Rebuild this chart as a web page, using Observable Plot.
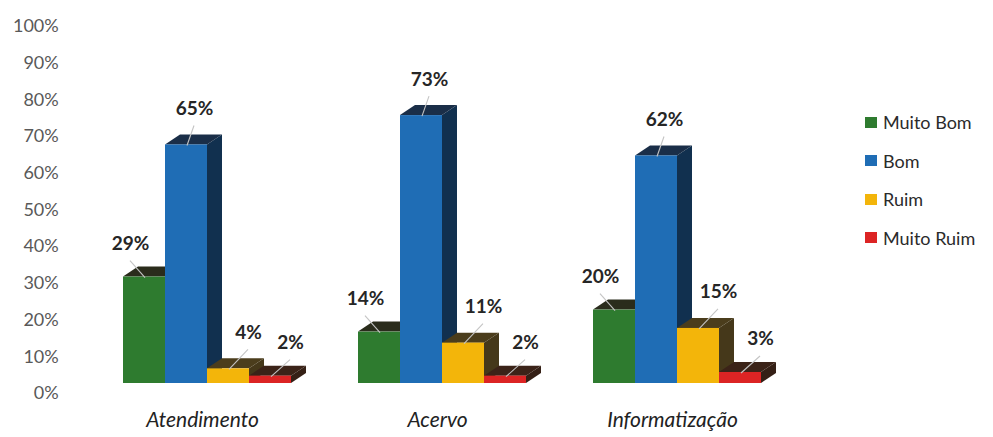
<!DOCTYPE html>
<html>
<head>
<meta charset="utf-8">
<script src="https://cdn.jsdelivr.net/npm/d3@7"></script>
<script src="https://cdn.jsdelivr.net/npm/@observablehq/plot@0.6"></script>
<style>
  html, body { margin: 0; padding: 0; background: #ffffff; }
  #wrap { position: relative; width: 993px; height: 437px; overflow: hidden; }
  #legend { position: absolute; left: 865px; top: 103px; font-family: Lato, "Open Sans", sans-serif; font-size: 18px; color: #2b2b2b; }
  #legend .row { height: 38.5px; display: flex; align-items: center; }
  #legend .sw { width: 12px; height: 11px; margin-right: 6px; }
</style>
</head>
<body>
<div id="wrap"><div id="legend"></div></div>
<script>
// ---- data ----
const categories = ["Atendimento", "Acervo", "Informatização"];
const series = ["Muito Bom", "Bom", "Ruim", "Muito Ruim"];
const muitoBom = [29, 14, 20];
const bom = [65, 73, 62];
const ruim = [4, 11, 15];
const muitoRuim = [2, 2, 3];
const yTicks = [0, 10, 20, 30, 40, 50, 60, 70, 80, 90, 100];

// ---- styles ----
const frontColor = {"Muito Bom": "#2e7b2f", "Bom": "#1f6db5", "Ruim": "#f3b50a", "Muito Ruim": "#dc2424"};
const topColor   = {"Muito Bom": "#2a2c1c", "Bom": "#1a2e48", "Ruim": "#4b3d1c", "Muito Ruim": "#3b2318"};
const sideColor  = {"Muito Bom": "#232f1a", "Bom": "#11304f", "Ruim": "#45381a", "Muito Ruim": "#352016"};
const labelStyle = {"Muito Bom": {dx: -14, up: 27}, "Bom": {dx: 8, up: 30}, "Ruim": {dx: 20, up: 30}, "Muito Ruim": {dx: 20, up: 27}};
const LIFT = 10, DEPTH_X = 15, DEPTH_Y = 10;

const W = 993, H = 437;
const M = {top: 26, right: 179, bottom: 44, left: 70};
const fxPad = {inner: 0.278, outer: 0.22};

const seriesValues = [muitoBom, bom, ruim, muitoRuim];
const data = categories.flatMap((c, i) => series.map((s, j) => ({category: c, series: s, value: seriesValues[j][i]})));

// left edge of first facet (for placing y axis labels at the left margin)
const fxStart = d3.scaleBand().domain(categories).range([M.left, W - M.right])
  .paddingInner(fxPad.inner).paddingOuter(fxPad.outer)(categories[0]);

function bars3d(index, scales, values) {
  const g = d3.create("svg:g");
  const bw = typeof scales.x.bandwidth === "function" ? scales.x.bandwidth() : scales.x.bandwidth;
  for (const i of index) {
    const s = data[i].series;
    const x1 = values.x[i], x2 = x1 + bw;
    const yt = Math.min(values.y1[i], values.y2[i]) - LIFT;
    const yb = Math.max(values.y1[i], values.y2[i]) - LIFT;
    g.append("polygon")
      .attr("points", `${x2},${yt} ${x2 + DEPTH_X},${yt - DEPTH_Y} ${x2 + DEPTH_X},${yb - DEPTH_Y} ${x2},${yb}`)
      .attr("fill", sideColor[s]);
    g.append("polygon")
      .attr("points", `${x1},${yt} ${x1 + DEPTH_X},${yt - DEPTH_Y} ${x2 + DEPTH_X},${yt - DEPTH_Y} ${x2},${yt}`)
      .attr("fill", topColor[s]);
    g.append("rect")
      .attr("x", x1).attr("y", yt).attr("width", bw).attr("height", yb - yt)
      .attr("fill", frontColor[s]);
  }
  for (const i of index) {
    const s = data[i].series, st = labelStyle[s];
    const x1 = values.x[i], cx = x1 + bw / 2;
    const yt = Math.min(values.y1[i], values.y2[i]) - LIFT;
    g.append("line")
      .attr("x1", cx + st.dx).attr("y1", yt - st.up + 11)
      .attr("x2", cx + 1).attr("y2", yt + 1)
      .attr("stroke", "#c4c4c4").attr("stroke-width", 1.1);
  }
  return g.node();
}

const chart = Plot.plot({
  width: W, height: H,
  marginTop: M.top, marginRight: M.right, marginBottom: M.bottom, marginLeft: M.left,
  style: {fontFamily: "Lato, 'Open Sans', sans-serif", background: "#ffffff"},
  fx: {domain: categories, paddingInner: fxPad.inner, paddingOuter: fxPad.outer},
  x: {domain: series, padding: 0, axis: null},
  y: {domain: [0, 100]},
  marks: [
    Plot.axisY({ticks: yTicks, tickSize: 0, tickPadding: 0, dx: (M.left - 12) - fxStart,
      tickFormat: d => d + "%", fontSize: 18, fill: "#595959", label: null}),
    Plot.axisFx({anchor: "bottom", tickSize: 0, tickPadding: 19, fontSize: 21, dx: -5,
      fontStyle: "italic", fill: "#222", label: null}),
    Plot.barY(data, {fx: "category", x: "series", y: "value", render: bars3d}),
    ...series.map(s => Plot.text(data.filter(d => d.series === s), {
      fx: "category", x: "series", y: "value",
      text: d => d.value + "%",
      dx: labelStyle[s].dx, dy: -LIFT - labelStyle[s].up,
      lineAnchor: "bottom", fontWeight: "bold", fontSize: 19, fill: "#262626"
    }))
  ]
});
document.getElementById("wrap").prepend(chart);

const legend = d3.select("#legend");
for (const s of series) {
  const row = legend.append("div").attr("class", "row");
  row.append("div").attr("class", "sw").style("background", frontColor[s]);
  row.append("span").text(s);
}
</script>
</body>
</html>
